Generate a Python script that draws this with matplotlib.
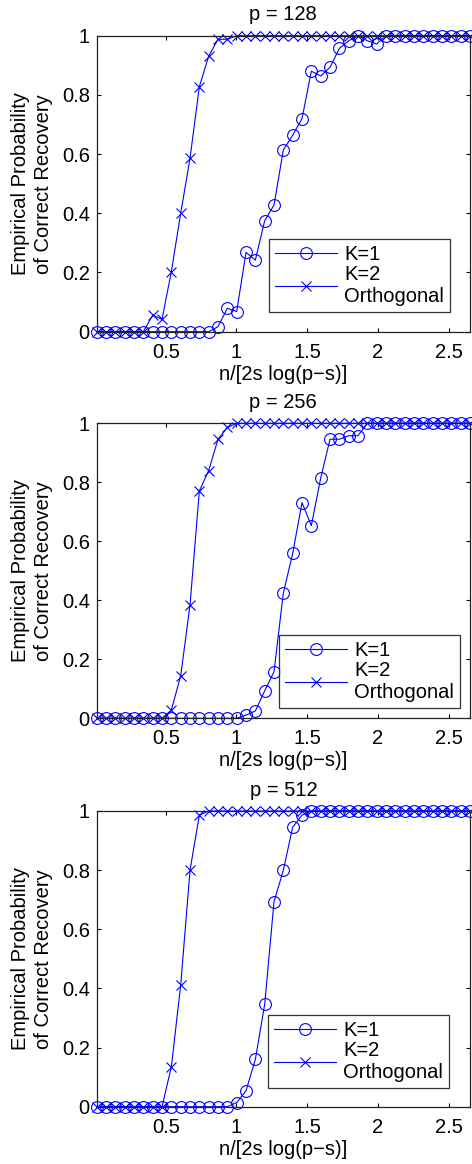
import numpy as np
import matplotlib
matplotlib.use("Agg")
from matplotlib import pyplot as plt

plt.rcParams['font.family'] = ['Liberation Sans', 'DejaVu Sans']

# x grid: n/[2s log(p-s)], 41 samples
x = [0.012, 0.078, 0.144, 0.210, 0.276, 0.342, 0.408, 0.474, 0.540, 0.606,
     0.672, 0.738, 0.804, 0.870, 0.936, 1.002, 1.068, 1.134, 1.200, 1.266,
     1.332, 1.398, 1.464, 1.530, 1.596, 1.662, 1.728, 1.794, 1.860, 1.926,
     1.992, 2.058, 2.124, 2.190, 2.256, 2.322, 2.388, 2.454, 2.520, 2.586,
     2.652]

titles = ["p = 128", "p = 256", "p = 512"]

# p = 128
k1_128 = [0]*13 + [0.017, 0.079, 0.068, 0.268, 0.242, 0.375, 0.428, 0.614,
                   0.664, 0.720, 0.880, 0.864, 0.893, 0.957, 0.983, 1.0,
                   0.983, 0.972] + [1.0]*10
k2_128 = [0]*6 + [0.056, 0.042, 0.203, 0.400, 0.586, 0.828, 0.931, 0.988,
                  0.988] + [1.0]*26
# p = 256
k1_256 = [0]*16 + [0.011, 0.025, 0.093, 0.158, 0.425, 0.559, 0.731, 0.653,
                   0.814, 0.946, 0.946, 0.958, 0.958] + [1.0]*12
k2_256 = [0]*8 + [0.028, 0.144, 0.384, 0.771, 0.840, 0.946, 0.986] + [1.0]*26
# p = 512
k1_512 = [0]*15 + [0.014, 0.054, 0.160, 0.346, 0.693, 0.800, 0.945,
                   0.986] + [1.0]*18
k2_512 = [0]*8 + [0.135, 0.411, 0.800, 0.986] + [1.0]*29

k1_all = [k1_128, k1_256, k1_512]
k2_all = [k2_128, k2_256, k2_512]

fs = 14.5
fig = plt.figure(figsize=(4.72, 11.64), dpi=100)
W, H = 472.0, 1164.0
boxes = [(96.7, 35.7, 470, 331.7), (96.7, 423.3, 470, 718.3), (96.7, 811, 470, 1106.7)]
legpos = [(269, 239), (279, 635), (268, 1015)]

for i in range(3):
    l, t, r, b = boxes[i]
    ax = fig.add_axes([l/W, 1-b/H, (r-l)/W, (b-t)/H])
    ax.plot(x, k1_all[i], '-o', color='b', lw=0.8, ms=8.5, mfc='none', mew=0.8,
            clip_on=False, label='K=1')
    ax.plot(x, k2_all[i], '-x', color='b', lw=0.8, ms=6.5, mew=0.8,
            clip_on=False, label='K=2\nOrthogonal')
    ax.set_xlim(x[0], x[-1])
    ax.set_ylim(0, 1)
    ax.set_xticks([0.5, 1, 1.5, 2, 2.5])
    ax.set_xticklabels(['0.5', '1', '1.5', '2', '2.5'])
    ax.set_yticks([0, 0.2, 0.4, 0.6, 0.8, 1])
    ax.set_yticklabels(['0', '0.2', '0.4', '0.6', '0.8', '1'])
    ax.tick_params(direction='in', top=True, right=True, labelsize=fs,
                   length=3, width=0.8)
    ax.tick_params(axis='x', pad=8)
    ax.tick_params(axis='y', pad=5)
    for s in ax.spines.values():
        s.set_linewidth(0.9)
        s.set_color('#222222')
    ax.set_title(titles[i], fontsize=fs, pad=11)
    ax.set_xlabel('n/[2s log(p\u2212s)]', fontsize=fs, labelpad=2)
    ax.set_ylabel('Empirical Probability\nof Correct Recovery', fontsize=fs,
                  labelpad=6, linespacing=1.3)
    lx, ly = legpos[i]
    leg = ax.legend(loc='upper left', bbox_to_anchor=((lx-l)/(r-l), (b-ly)/(b-t)),
                    fontsize=fs, frameon=True, fancybox=False, edgecolor='k',
                    handlelength=3.1, borderpad=0.3, labelspacing=0.05,
                    handletextpad=0.33, borderaxespad=0)
    leg.get_frame().set_linewidth(0.9)

fig.savefig('out.png', dpi=100)
